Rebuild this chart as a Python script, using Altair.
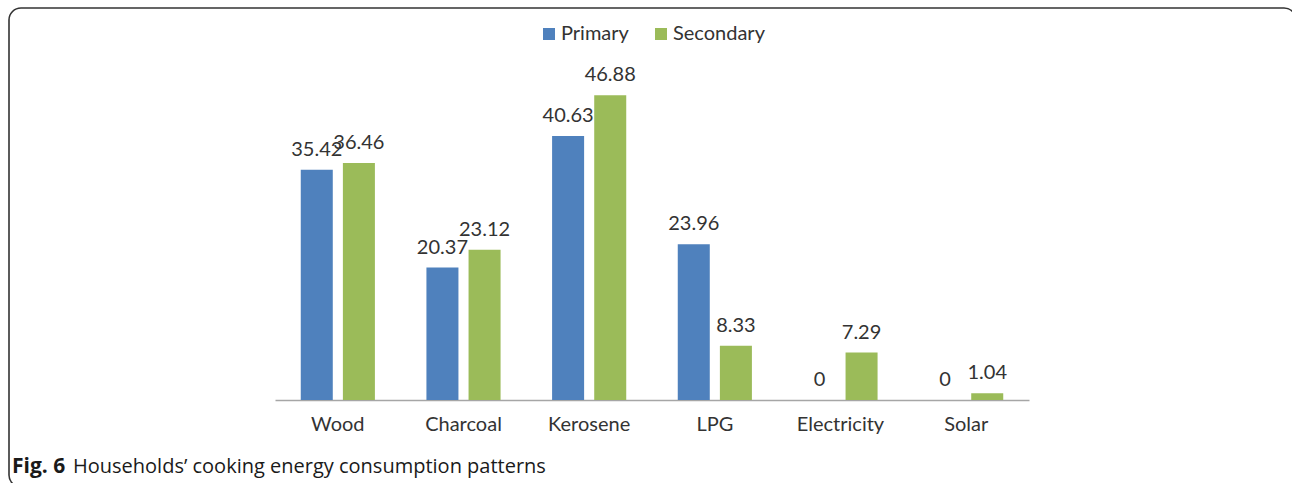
import altair as alt
import pandas as pd

# Cooking fuel shares (%) by household use
categories = ["Wood", "Charcoal", "Kerosene", "LPG", "Electricity", "Solar"]
series = ["Primary", "Secondary"]
primary = [35.42, 20.37, 40.63, 23.96, 0, 0]
secondary = [36.46, 23.12, 46.88, 8.33, 7.29, 1.04]
colors = ["#4F81BD", "#9BBB59"]

rows = []
for cat, p, s in zip(categories, primary, secondary):
    rows.append({"category": cat, "series": "Primary", "value": p})
    rows.append({"category": cat, "series": "Secondary", "value": s})
df = pd.DataFrame(rows)
df["label"] = df["value"].map(lambda v: f"{v:g}")

FONT = "Lato"
CAP_FONT = "Open Sans"
W, H = 754, 325
PAD = {"left": 275, "top": 75, "right": 263, "bottom": 83}

x = alt.X(
    "category:N",
    sort=categories,
    scale=alt.Scale(paddingInner=0.41, paddingOuter=0.205),
    axis=alt.Axis(
        title=None,
        labelAngle=0,
        ticks=False,
        grid=False,
        domainColor="#a6a6a6",
        domainWidth=1.5,
        labelFont=FONT,
        labelFontSize=20,
        labelColor="#333333",
        labelPadding=14,
    ),
)
xo = alt.XOffset(
    "series:N", sort=series, scale=alt.Scale(paddingInner=0.24, paddingOuter=0)
)
y = alt.Y("value:Q", scale=alt.Scale(domain=[0, 50]), axis=None)

base = alt.Chart(df)

bars = base.mark_bar().encode(
    x=x,
    xOffset=xo,
    y=y,
    color=alt.Color(
        "series:N",
        sort=series,
        scale=alt.Scale(domain=series, range=colors),
        legend=alt.Legend(
            title=None,
            orient="none",
            direction="horizontal",
            legendX=264,
            legendY=-51,
            symbolType="square",
            symbolSize=144,
            symbolStrokeWidth=0,
            labelFont=FONT,
            labelFontSize=20,
            labelColor="#333333",
            labelOffset=2,
            columnPadding=22,
        ),
    ),
)

labels = base.mark_text(
    baseline="alphabetic", dy=-14, font=FONT, fontSize=20, color="#333333"
).encode(x=x, xOffset=xo, y=y, text="label:N")

one = pd.DataFrame({"k": [0]})

# Rounded frame around the figure (right and bottom edges run off the page)
frame = alt.Chart(one).mark_rect(
    cornerRadius=12, fill=None, stroke="#333333", strokeWidth=1.6, clip=False
).encode(
    x=alt.value(9 - PAD["left"]),
    x2=alt.value(1296 - PAD["left"]),
    y=alt.value(8 - PAD["top"]),
    y2=alt.value(487 - PAD["top"]),
)

cap_bold = alt.Chart(one).mark_text(
    text="Fig. 6", align="left", baseline="alphabetic", font=CAP_FONT,
    fontSize=21, fontWeight="bold", color="#1a1a1a",
).encode(x=alt.value(12 - PAD["left"]), y=alt.value(473 - PAD["top"]))

cap_text = alt.Chart(one).mark_text(
    text="Households’ cooking energy consumption patterns", align="left",
    baseline="alphabetic", font=CAP_FONT, fontSize=20, color="#1a1a1a",
).encode(x=alt.value(73 - PAD["left"]), y=alt.value(473 - PAD["top"]))

chart = (
    alt.layer(bars, labels, frame, cap_bold, cap_text)
    .properties(
        width=W,
        height=H,
        padding=PAD,
        background="white",
        autosize=alt.AutoSizeParams(type="none"),
    )
    .configure_view(strokeWidth=0)
)

chart.save("out.html", embed_options={"renderer": "svg", "actions": False})
